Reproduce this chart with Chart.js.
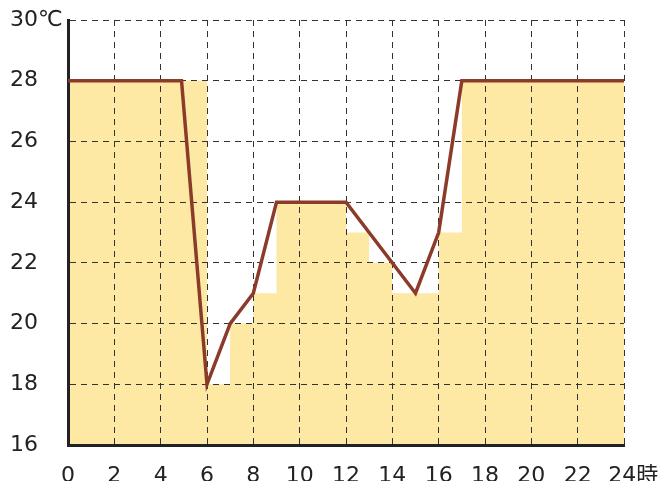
<!DOCTYPE html>
<html>
<head>
<meta charset="utf-8">
<script src="https://cdn.jsdelivr.net/npm/chart.js@4.4.1/dist/chart.umd.min.js"></script>
<style>
html, body { margin: 0; padding: 0; background: #fff; }
#wrap { width: 660px; height: 481px; }
</style>
</head>
<body>
<div id="wrap"><canvas id="myChart"></canvas></div>
<script>
// set temperature per hour (yellow steps), last value closes the step at 24h
const stepHours = [0, 1, 2, 3, 4, 5, 6, 7, 8, 9, 10, 11, 12, 13, 14, 15, 16, 17, 18, 19, 20, 21, 22, 23, 24];
const stepTemps = [28, 28, 28, 28, 28, 28, 18, 20, 21, 24, 24, 24, 23, 22, 21, 21, 23, 28, 28, 28, 28, 28, 28, 28, 28];

// temperature line
const lineHours = [0, 4.9, 6, 7, 8, 9, 12, 15, 16, 17, 24];
const lineTemps = [28, 28, 18, 20, 21, 24, 24, 21, 23, 28, 28];

const xTicks = [0, 2, 4, 6, 8, 10, 12, 14, 16, 18, 20, 22, 24];
const yTicks = [16, 18, 20, 22, 24, 26, 28, 30];

document.addEventListener("DOMContentLoaded", function () {
    const ctx = document.getElementById('myChart').getContext('2d');

    // grid has to sit on top of the yellow fill but under the line
    const gridOnTop = {
        id: 'gridOnTop',
        afterDatasetDraw(chart, args) {
            if (args.index !== 1) return;
            chart.scales.x.drawGrid(chart.chartArea);
            chart.scales.y.drawGrid(chart.chartArea);
            chart.scales.x.drawBorder();
            chart.scales.y.drawBorder();
        }
    };

    const font = { family: '"DejaVu Sans", "Noto Sans CJK JP", sans-serif', size: 22 };

    new Chart(ctx, {
        type: 'line',
        data: {
            datasets: [{
                label: 'temp',
                data: lineHours.map((h, i) => ({ x: h, y: lineTemps[i] })),
                borderColor: '#8c3b2a',
                borderWidth: 3.5,
                pointRadius: 0,
                fill: false,
                tension: 0
            }, {
                label: 'setting',
                data: stepHours.map((h, i) => ({ x: h, y: stepTemps[i] })),
                stepped: 'before',
                borderWidth: 0,
                borderColor: 'rgba(0,0,0,0)',
                backgroundColor: '#fde8a4',
                pointRadius: 0,
                fill: 'start'
            }]
        },
        options: {
            responsive: true,
            maintainAspectRatio: false,
            animation: false,
            layout: {
                padding: { left: 10, top: 20, right: 36, bottom: 0 }
            },
            scales: {
                x: {
                    type: 'linear',
                    min: 0,
                    max: 24,
                    afterBuildTicks: scale => { scale.ticks = xTicks.map(v => ({ value: v })); },
                    afterFit: scale => {
                        scale.height = 36;
                        scale.paddingRight = 0;
                    },
                    ticks: {
                        color: '#222',
                        font: font,
                        padding: 18,
                        maxRotation: 0,
                        autoSkip: false,
                        // leading spaces keep "24" roughly centred on its tick
                        callback: v => v === 24 ? '\u2007\u200924時' : v
                    },
                    grid: { color: '#333', lineWidth: 1, drawTicks: false },
                    border: { color: '#222', width: 3, dash: [6, 5] }
                },
                y: {
                    min: 16,
                    max: 30,
                    afterBuildTicks: scale => { scale.ticks = yTicks.map(v => ({ value: v })); },
                    afterFit: scale => { scale.width = 58; },
                    ticks: {
                        color: '#222',
                        font: font,
                        crossAlign: 'far',
                        callback: v => v === 30 ? '30℃' : v
                    },
                    grid: { color: '#333', lineWidth: 1, drawTicks: false },
                    border: { color: '#222', width: 3, dash: [6, 5] }
                }
            },
            plugins: {
                legend: { display: false },
                tooltip: { enabled: false }
            }
        },
        plugins: [gridOnTop]
    });
});
</script>
</body>
</html>
